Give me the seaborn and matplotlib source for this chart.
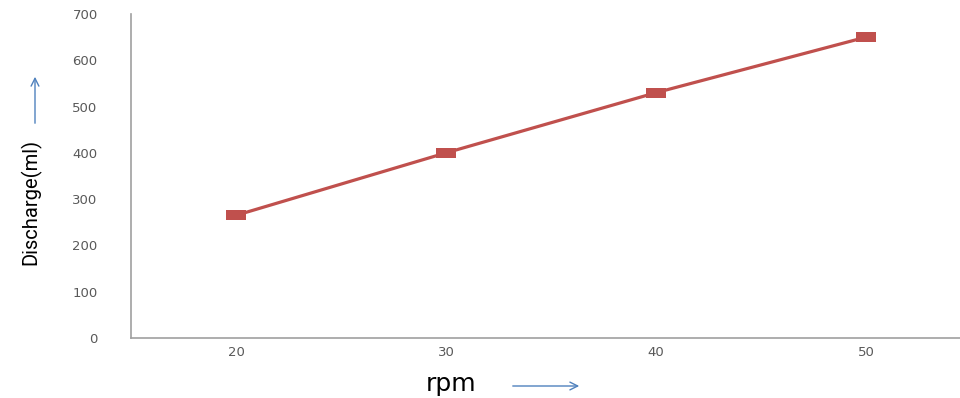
import matplotlib
matplotlib.use("Agg")
import matplotlib.pyplot as plt
import seaborn as sns
import pandas as pd

# Pump discharge measured at different speeds
rpm = [20, 30, 40, 50]
discharge = [265, 400, 530, 650]
y_ticks = [0, 100, 200, 300, 400, 500, 600, 700]

df = pd.DataFrame({"rpm": rpm, "discharge": discharge})

sns.set_theme(style="white")
plt.rcParams["font.family"] = ["DejaVu Sans"]

W, H = 960, 398
fig = plt.figure(figsize=(W / 100, H / 100), dpi=100)
# category-style axis: each speed sits in the middle of a 10-rpm bin
ax = fig.add_axes([131 / W, 1 - 338 / H, 840 / W, (338 - 14) / H])

# wide, flat rectangular marker
flat_box = [(-1, -0.45), (1, -0.45), (1, 0.45), (-1, 0.45), (-1, -0.45)]
sns.lineplot(data=df, x="rpm", y="discharge", ax=ax, color="#c0504d",
             linewidth=2.3, marker=flat_box, markersize=14.5, markeredgewidth=0,
             markerfacecolor="#c0504d")

ax.set_xlim(15, 55)
ax.set_ylim(0, 700)
ax.set_xticks(rpm)
ax.set_yticks(y_ticks)
ax.tick_params(axis="both", length=0, labelsize=9.5, colors="#595959")
ax.tick_params(axis="x", pad=6)
ax.tick_params(axis="y", pad=24)
ax.set_xlabel("")
ax.set_ylabel("")

for side in ("top", "right"):
    ax.spines[side].set_visible(False)
for side in ("left", "bottom"):
    ax.spines[side].set_color("#a0a0a0")
    ax.spines[side].set_linewidth(1.2)

# axis titles with direction arrows
fig.text(31 / W, 1 - 202 / H, "Discharge(ml)", rotation=90, ha="center",
         va="center", fontsize=14.5, color="black",
         family=["Roboto", "DejaVu Sans"])
fig.text(451 / W, 1 - 384 / H, "rpm", ha="center", va="center",
         fontsize=18, color="black")

arrow_style = dict(arrowstyle="->", color="#4f81bd", lw=1.0, mutation_scale=14)
fig.add_artist(matplotlib.patches.FancyArrowPatch(
    (35 / W, 1 - 126 / H), (35 / W, 1 - 74 / H),
    transform=fig.transFigure, **arrow_style))
fig.add_artist(matplotlib.patches.FancyArrowPatch(
    (510 / W, 1 - 386 / H), (582 / W, 1 - 386 / H),
    transform=fig.transFigure, **arrow_style))

fig.savefig("out.png", dpi=100)
